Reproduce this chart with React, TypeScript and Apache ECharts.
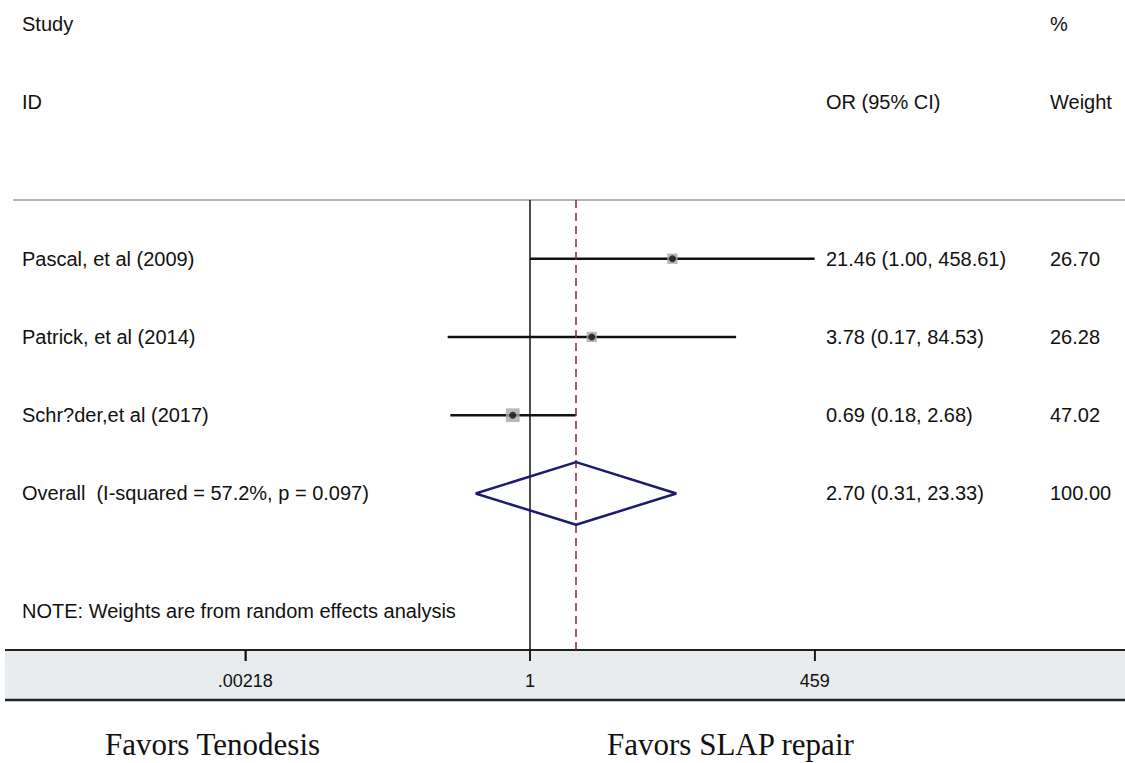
import React, { useEffect, useRef } from "react";
import * as echarts from "echarts";

const studies = ["Pascal, et al (2009)", "Patrick, et al (2014)", "Schr?der,et al (2017)"];
const orValues = [21.46, 3.78, 0.69];
const ciLow = [1.0, 0.17, 0.18];
const ciHigh = [458.61, 84.53, 2.68];
const weights = [26.7, 26.28, 47.02];
const overallLabel = "Overall  (I-squared = 57.2%, p = 0.097)";
const overallOR = 2.7;
const overallLow = 0.31;
const overallHigh = 23.33;
const overallWeight = 100.0;
const tickValues = [0.00218, 1, 459];
const tickLabels = [".00218", "1", "459"];
const noteText = "NOTE: Weights are from random effects analysis";
const leftFavor = "Favors Tenodesis";
const rightFavor = "Favors SLAP repair";

const SANS = "'Liberation Sans', Arial, sans-serif";
const SERIF = "'Liberation Serif', 'Times New Roman', serif";

export default function App() {
  const ref = useRef<HTMLDivElement>(null);
  useEffect(() => {
    document.body.style.margin = "0";
    const chart = echarts.init(ref.current!, null, { renderer: "svg" });
    const ln = Math.log;
    const rows = studies.map((_, i) => i + 1);
    const overallRow = studies.length + 1;
    const noteRow = overallRow + 1.5;
    const pad = 0.2;
    const xMin = ln(tickValues[0]) - pad;
    const xMax = ln(tickValues[tickValues.length - 1]) + pad;
    const tickPos = tickValues.map((v) => ln(v));

    chart.setOption({
      animation: false,
      grid: { left: 236, right: 301, top: 200, height: 450 },
      xAxis: {
        type: "value",
        min: xMin,
        max: xMax,
        axisLine: { show: true, lineStyle: { color: "#222", width: 2 } },
        splitLine: { show: false },
        axisTick: {
          show: true,
          length: 11,
          lineStyle: { color: "#111", width: 1.5 },
          customValues: tickPos,
        },
        axisLabel: {
          show: true,
          customValues: tickPos,
          formatter: (v: number) => {
            let best = 0;
            tickValues.forEach((t, i) => {
              if (Math.abs(ln(t) - v) < Math.abs(ln(tickValues[best]) - v)) best = i;
            });
            return tickLabels[best];
          },
          margin: 22,
          fontFamily: SANS,
          fontSize: 18,
          color: "#111",
        },
      },
      yAxis: {
        type: "value",
        min: 0.25,
        max: 6,
        inverse: true,
        show: false,
      },
      series: [
        {
          type: "custom",
          coordinateSystem: "cartesian2d",
          data: rows.map((r, i) => [ln(ciLow[i]), ln(ciHigh[i]), r]),
          renderItem: (params: any, api: any) => {
            const a = api.coord([api.value(0), api.value(2)]);
            const b = api.coord([api.value(1), api.value(2)]);
            return {
              type: "line",
              shape: { x1: a[0], y1: a[1], x2: b[0], y2: b[1] },
              style: { stroke: "#111", lineWidth: 2.5 },
            };
          },
          z: 2,
          markLine: {
            silent: true,
            symbol: "none",
            label: { show: false },
            data: [
              { xAxis: 0, lineStyle: { color: "#111", width: 1.5, type: "solid" } },
              {
                xAxis: ln(overallOR),
                lineStyle: { color: "#8b2232", width: 1.5, type: [8, 5] },
              },
            ],
          },
        },
        {
          type: "custom",
          coordinateSystem: "cartesian2d",
          data: tickPos.map((p) => [p, 6]),
          clip: false,
          renderItem: (params: any, api: any) => {
            const c = api.coord([api.value(0), 6]);
            return {
              type: "line",
              shape: { x1: c[0], y1: c[1], x2: c[0], y2: c[1] + 11 },
              style: { stroke: "#111", lineWidth: 1.5 },
            };
          },
          z: 6,
        },
        {
          type: "scatter",
          symbol: "rect",
          data: rows.map((r, i) => ({
            value: [ln(orValues[i]), r],
            symbolSize: 2 * Math.sqrt(weights[i]),
          })),
          itemStyle: { color: "#a6a6a6" },
          z: 3,
        },
        {
          type: "scatter",
          symbol: "circle",
          symbolSize: 7,
          data: rows.map((r, i) => [ln(orValues[i]), r]),
          itemStyle: { color: "#111" },
          z: 4,
        },
        {
          type: "line",
          showSymbol: false,
          symbol: "none",
          data: [
            [ln(overallLow), overallRow],
            [ln(overallOR), overallRow - 0.4],
            [ln(overallHigh), overallRow],
            [ln(overallOR), overallRow + 0.4],
            [ln(overallLow), overallRow],
          ],
          lineStyle: { color: "#1c1c6e", width: 2.5 },
          z: 5,
        },
      ],
    });

    const yOf = (r: number) => chart.convertToPixel({ gridIndex: 0 }, [0, r])[1];
    const fmt = (v: number) => v.toFixed(2);
    const txt = (x: number, y: number, s: string, extra: any = {}) => ({
      type: "text",
      x,
      y,
      style: {
        text: s,
        fontFamily: SANS,
        fontSize: 20,
        fill: "#111",
        verticalAlign: "middle",
        align: "left",
        ...extra,
      },
      z: 10,
    });

    const graphics: any[] = [
      {
        type: "rect",
        shape: { x: 5, y: 651, width: 1120, height: 49 },
        style: { fill: "#e8ecef" },
        z: -100,
        silent: true,
      },
      {
        type: "line",
        shape: { x1: 13, y1: 200, x2: 1125, y2: 200 },
        style: { stroke: "#b4b4b4", lineWidth: 2 },
      },
      {
        type: "line",
        shape: { x1: 5, y1: 650, x2: 1125, y2: 650 },
        style: { stroke: "#222", lineWidth: 2 },
      },
      {
        type: "line",
        shape: { x1: 5, y1: 700, x2: 1125, y2: 700 },
        style: { stroke: "#222", lineWidth: 2.5 },
      },
      txt(22, 24, "Study"),
      txt(22, 102, "ID"),
      txt(826, 102, "OR (95% CI)"),
      txt(1050, 24, "%"),
      txt(1050, 102, "Weight"),
    ];
    studies.forEach((s, i) => {
      const y = yOf(rows[i]);
      graphics.push(txt(22, y, s));
      graphics.push(txt(826, y, `${fmt(orValues[i])} (${fmt(ciLow[i])}, ${fmt(ciHigh[i])})`));
      graphics.push(txt(1050, y, fmt(weights[i])));
    });
    const yo = yOf(overallRow);
    graphics.push(txt(22, yo, overallLabel));
    graphics.push(txt(826, yo, `${fmt(overallOR)} (${fmt(overallLow)}, ${fmt(overallHigh)})`));
    graphics.push(txt(1050, yo, fmt(overallWeight)));
    graphics.push(txt(22, yOf(noteRow), noteText));
    graphics.push(txt(105, 744, leftFavor, { fontFamily: SERIF, fontSize: 31 }));
    graphics.push(txt(607, 744, rightFavor, { fontFamily: SERIF, fontSize: 31 }));

    chart.setOption({ graphic: graphics });
    return () => chart.dispose();
  }, []);
  return <div ref={ref} style={{ width: 1125, height: 763 }} />;
}
